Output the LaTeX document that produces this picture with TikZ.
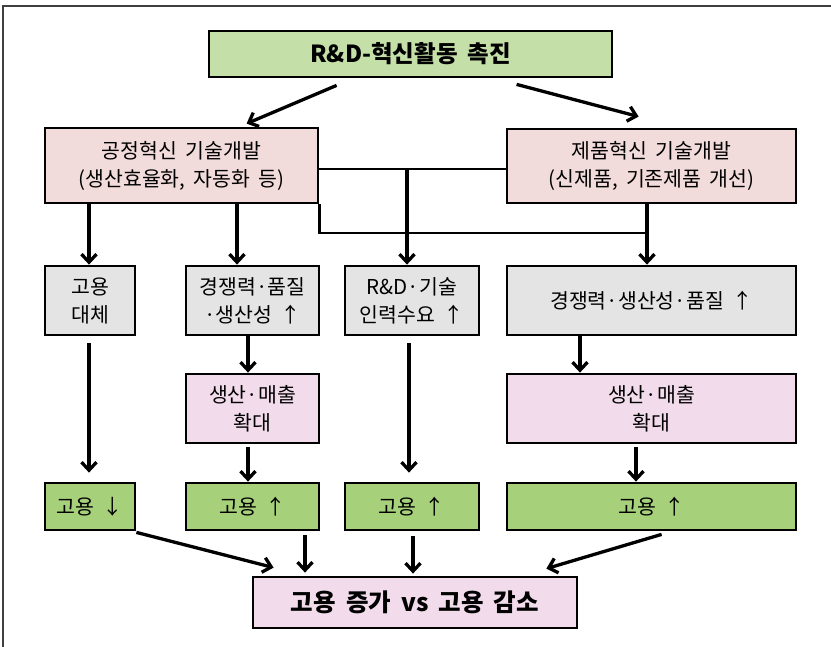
\documentclass[tikz,border=0pt]{standalone}
\usepackage{fontspec}
\setmainfont{Noto Sans CJK KR}[WordSpace=1.8]
\usetikzlibrary{arrows.meta,calc}
\definecolor{cTop}{RGB}{196,223,168}
\definecolor{cPinkTop}{RGB}{242,220,219}
\definecolor{cGray}{RGB}{228,228,228}
\definecolor{cLav}{RGB}{242,220,236}
\definecolor{cGreen}{RGB}{166,208,122}
\tikzset{
  box/.style={draw=black, line width=2.8pt, rectangle, inner sep=0pt, align=center,
    font=\fontsize{20.5}{28}\selectfont, text=black},
  arr/.style={line width=3.3pt, -{Straight Barb[length=8pt,width=15pt]}},
  conn/.style={line width=2.4pt},
  frame/.style={line width=2pt, black!75}
}
\begin{document}
\begin{tikzpicture}[x=1pt,y=-1pt]
\useasboundingbox (0,0) rectangle (831,647);
\fill[white] (0,0) rectangle (831,647);
\draw[frame] (3,647) -- (3,6.5) -- (831,6.5);

\node[box, fill=cTop, minimum width=403pt, minimum height=46pt,
  font=\fontsize{23.5}{26}\selectfont\bfseries] (T) at (410.5,54) {R\&D-혁신활동 촉진};

\node[box, fill=cPinkTop, minimum width=273pt, minimum height=75pt] (LP) at (181.5,165.5)
  {공정혁신 기술개발\\(생산효율화, 자동화 등)};
\node[box, fill=cPinkTop, minimum width=289pt, minimum height=74pt] (RP) at (651.5,166)
  {제품혁신 기술개발\\(신제품, 기존제품 개선)};

\node[box, fill=cGray, minimum width=90pt, minimum height=69pt] (G1) at (90,300.5) {고용\\대체};
\node[box, fill=cGray, minimum width=133pt, minimum height=69pt] (G2) at (252.5,300.5) {경쟁력·품질\\·생산성 ↑};
\node[box, fill=cGray, minimum width=134pt, minimum height=69pt] (G3) at (412,300.5) {R\&D·기술\\인력수요 ↑};
\node[box, fill=cGray, minimum width=289pt, minimum height=69pt] (G4) at (651.5,300.5) {경쟁력·생산성·품질 ↑};

\node[box, fill=cLav, minimum width=133pt, minimum height=69pt] (P2) at (252.5,408.5) {생산·매출\\확대};
\node[box, fill=cLav, minimum width=289pt, minimum height=69pt] (P4) at (651.5,408.5) {생산·매출\\확대};

\node[box, fill=cGreen, minimum width=90pt, minimum height=47pt] (E1) at (90,506.5) {고용 ↓};
\node[box, fill=cGreen, minimum width=133pt, minimum height=47pt] (E2) at (252.5,506.5) {고용 ↑};
\node[box, fill=cGreen, minimum width=134pt, minimum height=47pt] (E3) at (412,506.5) {고용 ↑};
\node[box, fill=cGreen, minimum width=289pt, minimum height=47pt] (E4) at (651.5,506.5) {고용 ↑};

\node[box, fill=cLav, minimum width=324pt, minimum height=51pt,
  font=\fontsize{24.5}{28}\selectfont\bfseries] (B) at (415,602.5) {고용 증가 vs 고용 감소};

% junctions
\coordinate (j1) at (407,169);
\coordinate (j2) at (647,233);
\coordinate (c1) at (89,0);
\coordinate (c2) at (237,0);
\coordinate (c3) at (248,0);
\coordinate (c4) at (409,0);
\coordinate (c5) at (580,0);
\coordinate (c6) at (636,0);
\coordinate (c7) at (305,0);
\coordinate (c8) at (413,0);

% top arrows
\draw[arr] ([xshift=129pt,yshift=-7pt]T.south west) -- ([xshift=203pt,yshift=3pt]LP.north west);
\draw[arr] ([xshift=309pt,yshift=-6pt]T.south west) -- ([xshift=133pt,yshift=11pt]RP.north west);

% connectors
\draw[conn] (LP.east |- j1) -- (RP.west |- j1);
\draw[conn] (LP.south east) |- (j2);
\draw[arr] (j1) -- (G3.north -| j1);
\draw[arr] (RP.south -| j2) -- (G4.north -| j2);
\draw[arr] (LP.south -| c1) -- (G1.north -| c1);
\draw[arr] (LP.south -| c2) -- (G2.north -| c2);

\draw[arr, shorten <=7pt, shorten >=9pt] (G1.south -| c1) -- (E1.north -| c1);
\draw[arr] (G2.south -| c3) -- (P2.north -| c3);
\draw[arr, shorten <=3pt] (P2.south -| c3) -- (E2.north -| c3);
\draw[arr, shorten <=7pt, shorten >=9pt] (G3.south -| c4) -- (E3.north -| c4);
\draw[arr] (G4.south -| c5) -- (P4.north -| c5);
\draw[arr, shorten <=3pt] (P4.south -| c6) -- (E4.north -| c6);

% to bottom
\draw[arr] ([yshift=-1pt]E1.south east) -- ([xshift=22pt,yshift=8pt]B.north west);
\draw[arr, shorten <=4pt, shorten >=3pt] (E2.south -| c7) -- (B.north -| c7);
\draw[arr, shorten <=5pt, shorten >=2pt] (E3.south -| c8) -- (B.north -| c8);
\draw[arr] ([xshift=156pt,yshift=-3pt]E4.south west) -- ([xshift=-32pt,yshift=7pt]B.north east);
\end{tikzpicture}
\end{document}
